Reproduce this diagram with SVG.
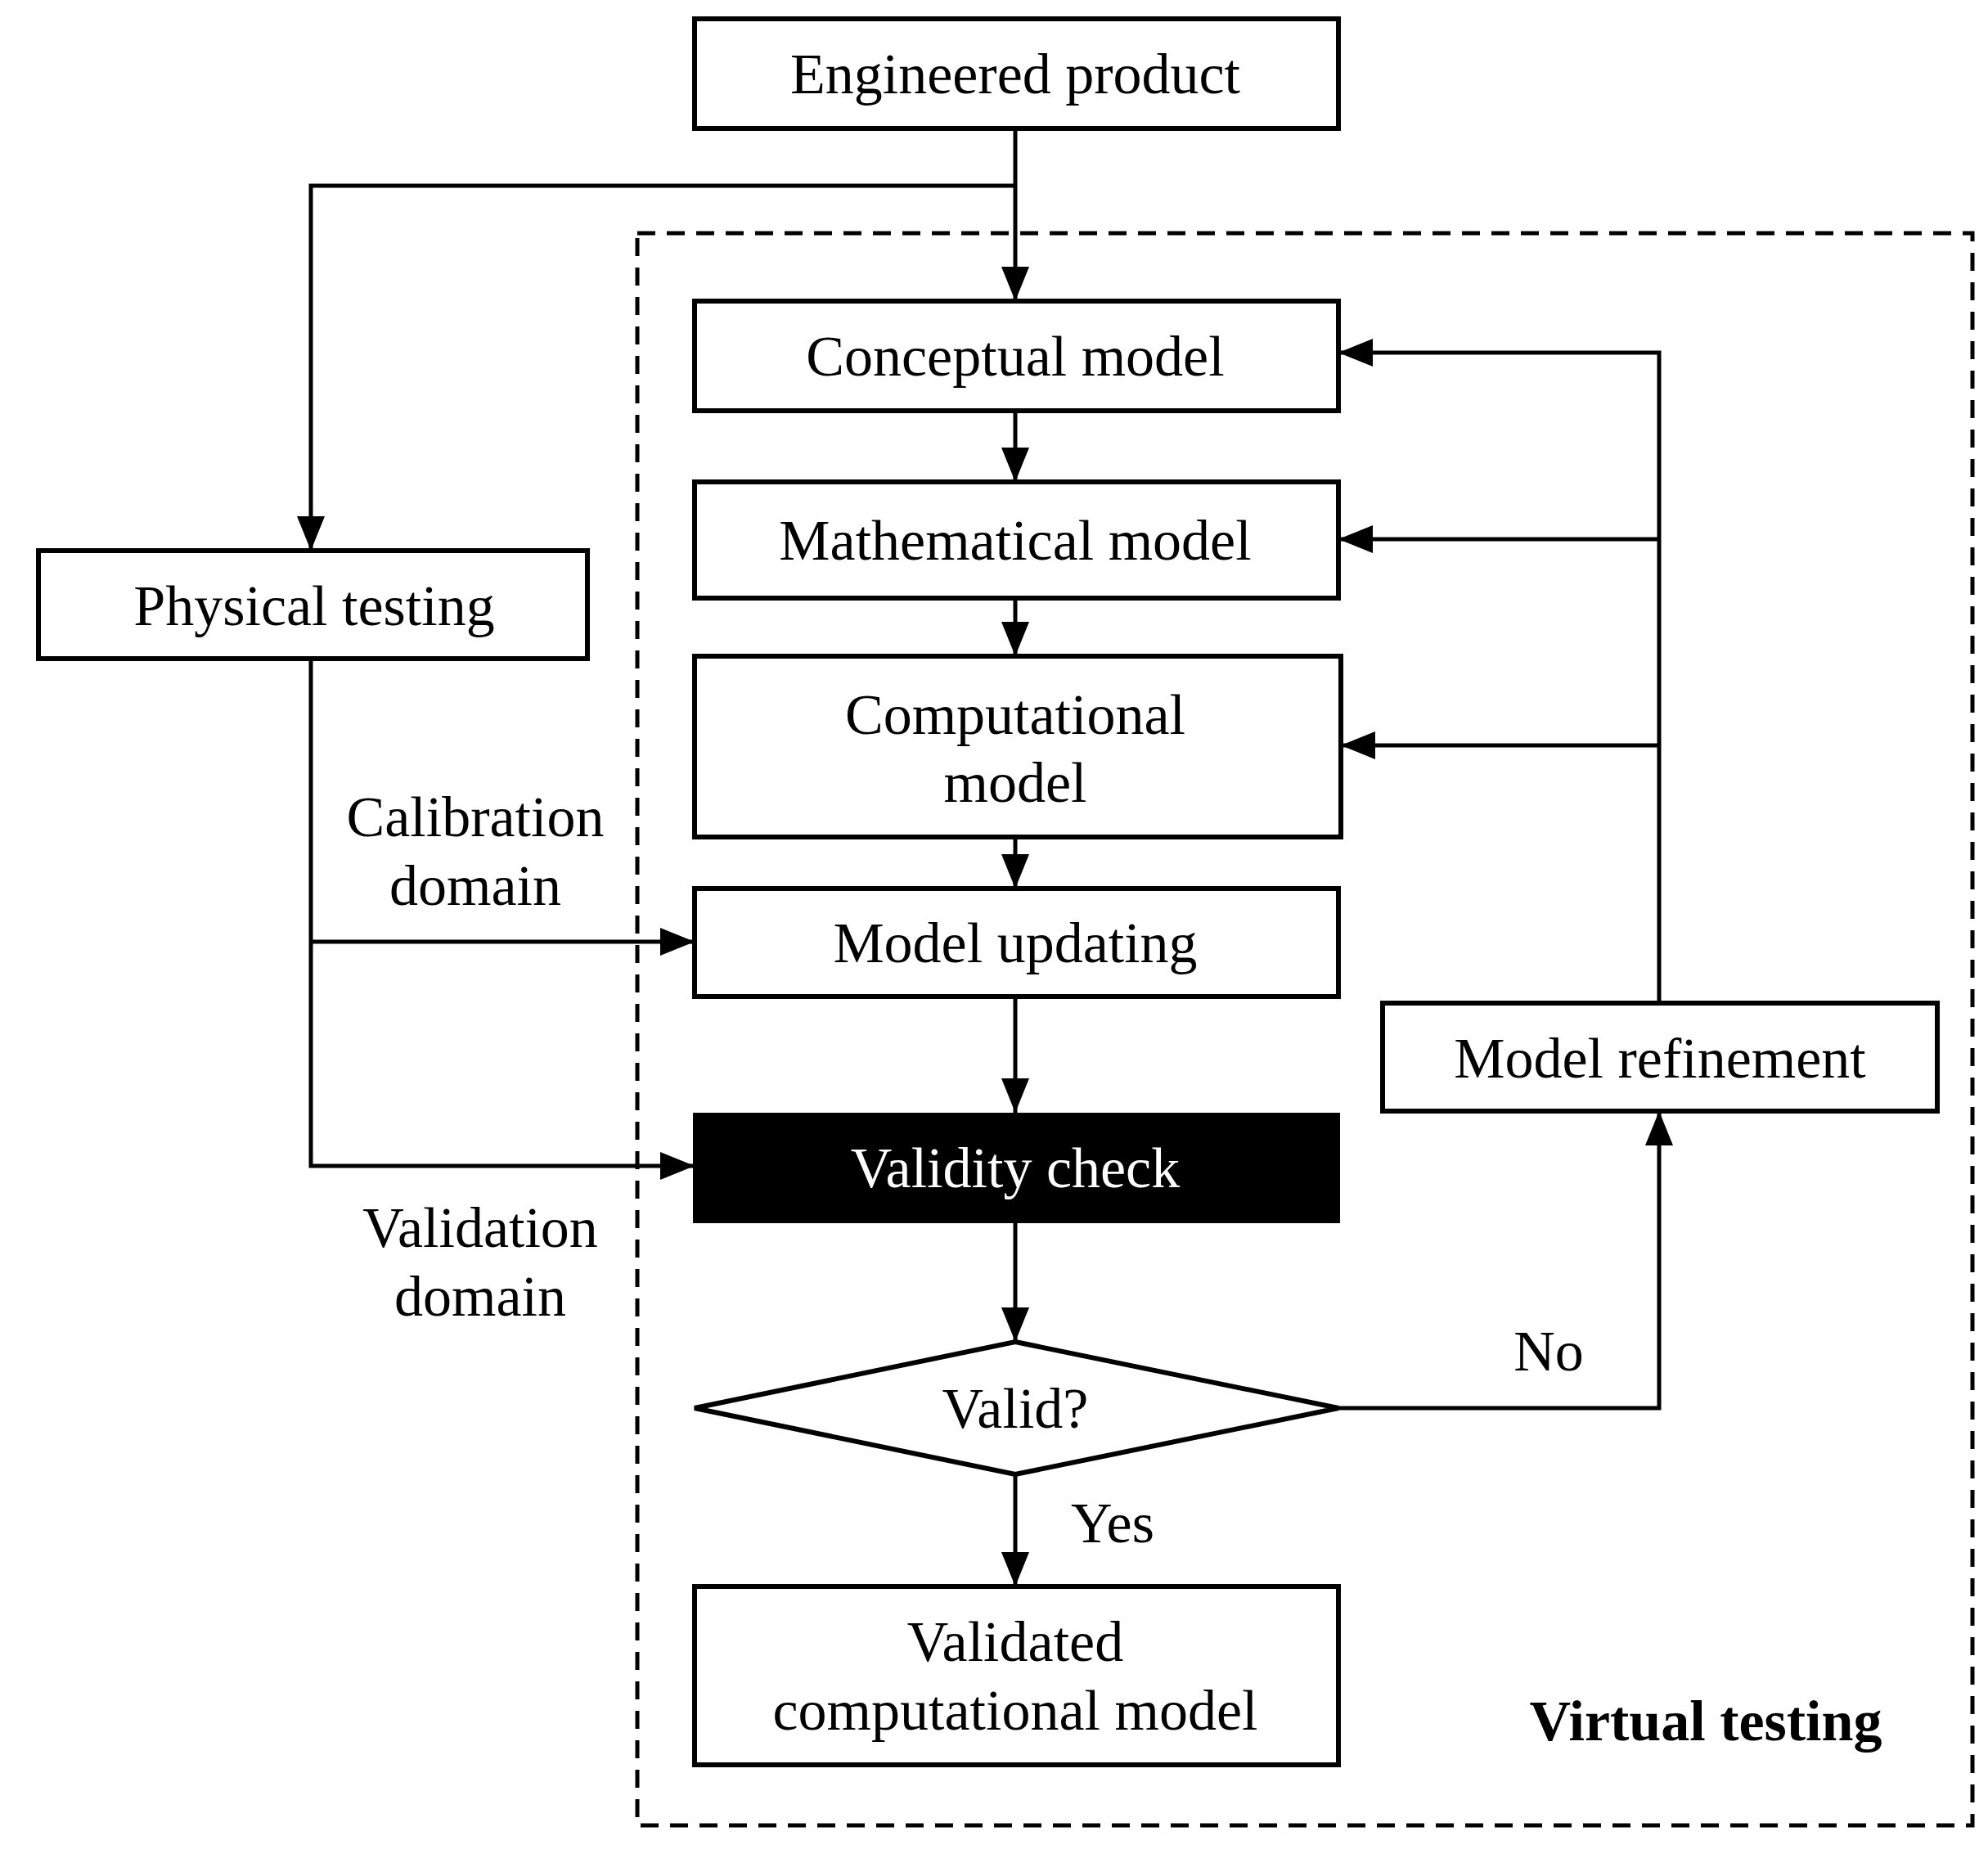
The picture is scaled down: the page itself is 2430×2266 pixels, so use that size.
<svg xmlns="http://www.w3.org/2000/svg" width="2430" height="2266" viewBox="0 0 2430 2266">
<style>
.b{fill:#fff;stroke:#000;stroke-width:6}
.t{font-family:"Liberation Serif",serif;font-size:70px;text-anchor:middle;fill:#000}
.c{fill:none;stroke:#000;stroke-width:5}
</style>
<defs>
<marker id="a" markerUnits="userSpaceOnUse" markerWidth="42" markerHeight="34" refX="42" refY="17" orient="auto"><path d="M0,0 L42,17 L0,34 Z" fill="#000"/></marker>
</defs>
<rect width="2430" height="2266" fill="#fff"/>
<rect x="779" y="285" width="1632" height="1946" fill="none" stroke="#000" stroke-width="5" stroke-dasharray="22,14"/>
<g id="connectors">
<path class="c" d="M1241,157 V368" marker-end="url(#a)"/>
<path class="c" d="M1241,227 H380 V673" marker-end="url(#a)"/>
<path class="c" d="M1241,502 V589" marker-end="url(#a)"/>
<path class="c" d="M1241,731 V802" marker-end="url(#a)"/>
<path class="c" d="M1241,1023 V1086" marker-end="url(#a)"/>
<path class="c" d="M1241,1218 V1360" marker-end="url(#a)"/>
<path class="c" d="M1241,1495 V1640" marker-end="url(#a)"/>
<path class="c" d="M1241,1802 V1939" marker-end="url(#a)"/>
<path class="c" d="M380,805 V1425 H849" marker-end="url(#a)"/>
<path class="c" d="M380,1151 H849" marker-end="url(#a)"/>
<path class="c" d="M1636,1721 H2028 V1358" marker-end="url(#a)"/>
<path class="c" d="M2028,1226 V431 H1636" marker-end="url(#a)"/>
<path class="c" d="M2028,659 H1636" marker-end="url(#a)"/>
<path class="c" d="M2028,911 H1639" marker-end="url(#a)"/>
</g>
<g id="engineered"><rect class="b" x="849" y="23" width="787" height="134"/><text class="t" x="1241" y="114">Engineered product</text></g>
<g id="conceptual"><rect class="b" x="849" y="368" width="787" height="134"/><text class="t" x="1241" y="459">Conceptual model</text></g>
<g id="mathematical"><rect class="b" x="849" y="589" width="787" height="142"/><text class="t" x="1241" y="684">Mathematical model</text></g>
<g id="computational"><rect class="b" x="849" y="802" width="790" height="221"/><text class="t" x="1241" y="897">Computational</text><text class="t" x="1241" y="980">model</text></g>
<g id="updating"><rect class="b" x="849" y="1086" width="787" height="132"/><text class="t" x="1241" y="1176">Model updating</text></g>
<g id="validity"><rect x="847" y="1360" width="791" height="135" fill="#000"/><text class="t" x="1241" y="1451" fill="#fff" style="fill:#fff">Validity check</text></g>
<g id="valid"><polygon class="b" points="1241,1640 1636,1721 1241,1802 849,1721"/><text class="t" x="1241" y="1745">Valid?</text></g>
<g id="validated"><rect class="b" x="849" y="1939" width="787" height="218"/><text class="t" x="1241" y="2030">Validated</text><text class="t" x="1241" y="2114">computational model</text></g>
<g id="physical"><rect class="b" x="47" y="673" width="671" height="132"/><text class="t" x="384" y="764">Physical testing</text></g>
<g id="refinement"><rect class="b" x="1690" y="1226" width="678" height="132"/><text class="t" x="2029" y="1317">Model refinement</text></g>
<g id="labels">
<text class="t" x="581" y="1022">Calibration</text>
<text class="t" x="581" y="1106">domain</text>
<text class="t" x="587" y="1524">Validation</text>
<text class="t" x="587" y="1608">domain</text>
<text class="t" x="1893" y="1675">No</text>
<text class="t" x="1360" y="1885">Yes</text>
<text class="t" x="2085" y="2127" font-weight="bold">Virtual testing</text>
</g>
</svg>
